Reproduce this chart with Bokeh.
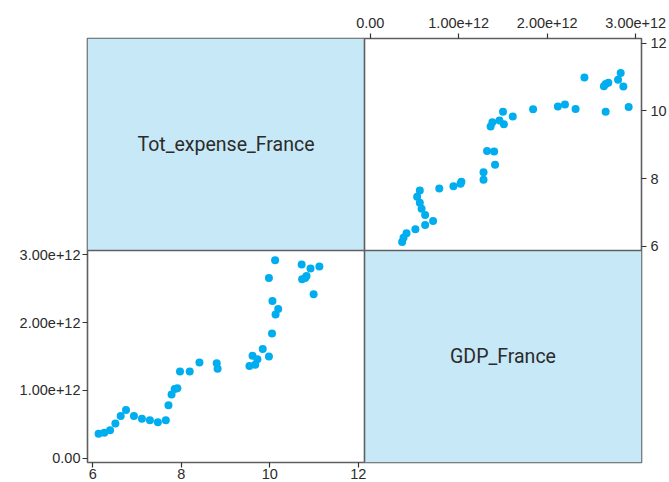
from bokeh.plotting import figure
from bokeh.models import Range1d, LinearAxis, FixedTicker, Span
from bokeh.core.properties import value
from bokeh.embed import file_html
from bokeh.resources import INLINE

# ---- data -----------------------------------------------------------------
variables = ["Tot_expense_France", "GDP_France"]

tot_expense = [6.13, 6.26, 6.39, 6.51, 6.63, 6.75, 6.93, 7.11, 7.29, 7.47,
               7.65, 7.71, 7.78, 7.85, 7.91, 7.97, 8.19, 8.41, 8.80, 8.82,
               9.54, 9.61, 9.67, 9.72, 9.84, 9.98, 10.05, 10.06, 10.13, 10.19,
               9.98, 10.12, 10.72, 10.73, 10.80, 10.83, 10.92, 10.99, 11.12]

gdp = [0.36e12, 0.376e12, 0.41e12, 0.51e12, 0.62e12, 0.71e12, 0.62e12, 0.58e12,
       0.56e12, 0.53e12, 0.56e12, 0.78e12, 0.94e12, 1.02e12, 1.03e12, 1.28e12,
       1.28e12, 1.41e12, 1.40e12, 1.32e12, 1.36e12, 1.51e12, 1.38e12, 1.46e12,
       1.61e12, 1.50e12, 1.84e12, 2.32e12, 2.12e12, 2.20e12, 2.66e12, 2.92e12,
       2.86e12, 2.64e12, 2.66e12, 2.69e12, 2.80e12, 2.42e12, 2.83e12]

expense_ticks = [6, 8, 10, 12]
expense_tick_labels = ["6", "8", "10", "12"]
gdp_ticks = [0, 1e12, 2e12, 3e12]
gdp_tick_labels = ["0.00", "1.00e+12", "2.00e+12", "3.00e+12"]

expense_limits = (5.88, 12.14)
gdp_limits = (-0.065e12, 3.065e12)

# ---- styling --------------------------------------------------------------
POINT = "#00AEEF"
STRIP = "#C7E8F7"
BORDER = "#5f5f5f"
TEXT = "#2b2b2b"
FONT = "Liberation Sans"
TITLE_FONT = "Roboto"

n = len(variables)


def full_range(lim, col_from_low):
    """Extend a panel range to the full frame, panel occupying 1/n."""
    a, b = lim
    span = b - a
    return Range1d(a - col_from_low * span, a + (n - col_from_low) * span)


p = figure(width=669, height=481, output_backend="svg", toolbar_location=None,
           x_range=Range1d(0, 1), y_range=Range1d(0, 1),
           x_axis_location=None, y_axis_location=None,
           min_border_left=87, min_border_top=38,
           min_border_right=0, min_border_bottom=0)
p.grid.visible = False
p.outline_line_color = BORDER
p.outline_line_width = 1.6
p.background_fill_color = "white"
p.border_fill_color = "white"

# column 0 -> expense on x, column 1 -> gdp on x
# row 0 (top) -> expense on y, row 1 (bottom) -> gdp on y
p.extra_x_ranges = {
    "exp_x": full_range(expense_limits, 0),
    "gdp_x": full_range(gdp_limits, 1),
}
p.extra_y_ranges = {
    "exp_y": full_range(expense_limits, 1),
    "gdp_y": full_range(gdp_limits, 0),
}

# diagonal strips
lefts = [i / n for i in range(n)]
rights = [(i + 1) / n for i in range(n)]
tops = [1 - i / n for i in range(n)]
bottoms = [1 - (i + 1) / n for i in range(n)]
p.quad(left=lefts, right=rights, top=tops, bottom=bottoms,
       fill_color=STRIP, line_color=None)
p.text(x=[(l + r) / 2 for l, r in zip(lefts, rights)],
       y=[(t + b) / 2 for t, b in zip(tops, bottoms)],
       text=variables, text_align="center", text_baseline="middle",
       text_font=value(TITLE_FONT), text_font_size="19.5px", text_color=TEXT)

# panel separators
for k in range(1, n):
    p.add_layout(Span(location=k / n, dimension="height",
                      line_color=BORDER, line_width=1.6))
    p.add_layout(Span(location=k / n, dimension="width",
                      line_color=BORDER, line_width=1.6))

# points
p.scatter(x=gdp, y=tot_expense, x_range_name="gdp_x", y_range_name="exp_y",
          size=8, fill_color=POINT, line_color=None)
p.scatter(x=tot_expense, y=gdp, x_range_name="exp_x", y_range_name="gdp_y",
          size=8, fill_color=POINT, line_color=None)


def make_axis(range_name, is_x, ticks, labels, standoff):
    kw = dict(x_range_name=range_name) if is_x else dict(y_range_name=range_name)
    ax = LinearAxis(ticker=FixedTicker(ticks=ticks),
                    major_label_overrides=dict(zip(ticks, labels)), **kw)
    ax.axis_line_color = None
    ax.major_tick_in = 0
    ax.major_tick_out = 5
    ax.major_tick_line_color = "#333333"
    ax.major_tick_line_width = 1.2
    ax.minor_tick_line_color = None
    ax.major_label_text_font = FONT
    ax.major_label_text_font_size = "14.5px"
    ax.major_label_text_color = TEXT
    ax.major_label_standoff = standoff
    return ax


p.add_layout(make_axis("gdp_x", True, gdp_ticks, gdp_tick_labels, 6), "above")
p.add_layout(make_axis("exp_y", False, expense_ticks, expense_tick_labels, 4), "right")
p.add_layout(make_axis("gdp_y", False, gdp_ticks, gdp_tick_labels, 2), "left")
p.add_layout(make_axis("exp_x", True, expense_ticks, expense_tick_labels, 1), "below")

open("out.html", "w").write(file_html(p, INLINE))
